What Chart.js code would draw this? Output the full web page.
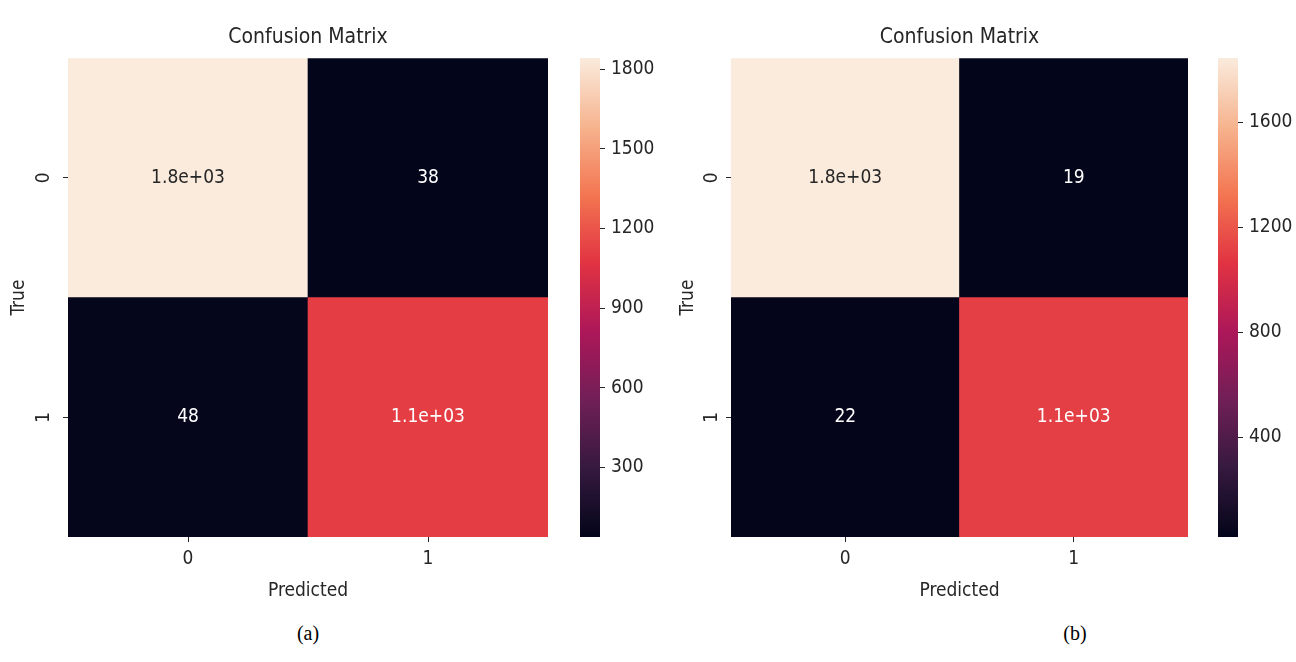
<!DOCTYPE html>
<html>
<head>
<meta charset="utf-8">
<script src="https://cdn.jsdelivr.net/npm/chart.js@4.4.1/dist/chart.umd.min.js"></script>
<style>
  body { margin: 0; background: #fff; width: 1296px; height: 662px; position: relative; overflow: hidden; }
  canvas { position: absolute; top: 0; }
  .cap { position: absolute; top: 622px; font: 20px 'Liberation Serif', 'Times New Roman', serif; color: #000; transform: translateX(-50%); }
</style>
</head>
<body>
<canvas id="hmA" width="548" height="610" style="left:0px"></canvas>
<canvas id="cbA" width="80" height="610" style="left:575px"></canvas>
<canvas id="hmB" width="518" height="610" style="left:670px"></canvas>
<canvas id="cbB" width="80" height="610" style="left:1213px"></canvas>
<div class="cap" style="left:308px">(a)</div>
<div class="cap" style="left:1075px">(b)</div>
<script>
const predLabels = ['0', '1'];
const trueLabels = ['0', '1'];
// rows = true class, columns = predicted class
const cmA = [[1842, 38], [48, 1110]];
const cmB = [[1845, 19], [22, 1110]];
const cbTicksA = [300, 600, 900, 1200, 1500, 1800];
const cbTicksB = [400, 800, 1200, 1600];

const FONT = "'DejaVu Sans Condensed', 'DejaVu Sans', sans-serif";
const INK = '#262626';
Chart.defaults.font.family = FONT;
Chart.defaults.font.size = 19;
Chart.defaults.color = INK;

// seaborn "rocket" colormap
const rocketStops = [
  [0, '#03051a'], [1 / 7, '#35193e'], [2 / 7, '#701f57'], [3 / 7, '#ad1759'],
  [4 / 7, '#e13342'], [5 / 7, '#f37651'], [6 / 7, '#f6b48f'], [1, '#faebdd']
];

function hexRgb(h) {
  return [1, 3, 5].map(i => parseInt(h.substr(i, 2), 16));
}

function rocket(t) {
  t = Math.max(0, Math.min(1, t));
  for (let i = 1; i < rocketStops.length; i++) {
    const [t1, c1] = rocketStops[i];
    if (t <= t1) {
      const [t0, c0] = rocketStops[i - 1];
      const f = (t - t0) / (t1 - t0);
      const a = hexRgb(c0), b = hexRgb(c1);
      const rgb = a.map((v, k) => Math.round(v + (b[k] - v) * f));
      return 'rgb(' + rgb.join(',') + ')';
    }
  }
  return rocketStops[rocketStops.length - 1][1];
}

function isLight(rgbStr) {
  const c = rgbStr.match(/\d+/g).map(v => {
    v = v / 255;
    return v <= 0.03928 ? v / 12.92 : Math.pow((v + 0.055) / 1.055, 2.4);
  });
  return 0.2126 * c[0] + 0.7152 * c[1] + 0.0722 * c[2] > 0.408;
}

// same as python '.2g'
function fmt(v) {
  return v.toPrecision(2).replace(/e([+-])(\d)$/, (m, s, d) => 'e' + s + '0' + d);
}

const annotate = {
  id: 'annotate',
  afterDatasetsDraw(chart) {
    const ctx = chart.ctx;
    ctx.save();
    ctx.font = '19px ' + FONT;
    ctx.textAlign = 'center';
    ctx.textBaseline = 'middle';
    chart.data.datasets.forEach((ds, di) => {
      chart.getDatasetMeta(di).data.forEach((bar, i) => {
        ctx.fillStyle = isLight(ds.backgroundColor[i]) ? INK : '#ffffff';
        ctx.fillText(fmt(ds.values[i]), bar.x, (bar.y + bar.base) / 2);
      });
    });
    ctx.restore();
  }
};

function heatmap(id, cm, yw, titlePad, tickPad) {
  const flat = cm.flat();
  const vmin = Math.min(...flat), vmax = Math.max(...flat);
  const n = trueLabels.length;
  // bottom row first so the stack reads top to bottom like the matrix
  const datasets = trueLabels.map((l, r) => r).reverse().map(r => ({
    data: predLabels.map(() => 1),
    values: cm[r],
    backgroundColor: cm[r].map(v => rocket((v - vmin) / (vmax - vmin))),
    borderWidth: 0,
    barPercentage: 1,
    categoryPercentage: 1
  }));

  new Chart(document.getElementById(id), {
    type: 'bar',
    data: { labels: predLabels, datasets: datasets },
    options: {
      responsive: false,
      animation: false,
      layout: { padding: 0 },
      plugins: {
        legend: { display: false },
        tooltip: { enabled: false },
        title: {
          display: true, text: 'Confusion Matrix', fullSize: false,
          font: { size: 21, weight: 'normal', lineHeight: 1.2 }, color: INK,
          padding: { top: 25, bottom: 8 }
        }
      },
      scales: {
        x: {
          stacked: true,
          grid: { drawOnChartArea: false, offset: false, tickLength: 5, color: INK },
          border: { display: false },
          ticks: { padding: 6 },
          title: { display: true, text: 'Predicted', font: { size: 19, lineHeight: 1.2 }, padding: { top: 0, bottom: 8 } },
          afterFit: s => { s.height = 73; }
        },
        y: {
          stacked: true,
          min: 0,
          max: n,
          afterBuildTicks: s => { s.ticks = trueLabels.map((l, r) => ({ value: n - r - 0.5 })); },
          grid: { drawOnChartArea: false, tickLength: 5, color: INK },
          border: { display: false },
          ticks: {
            minRotation: 90, maxRotation: 90, crossAlign: 'center', padding: tickPad,
            callback: v => trueLabels[n - 1 - Math.floor(v)]
          },
          title: { display: true, text: 'True', font: { size: 19, lineHeight: 1.2 }, padding: { top: titlePad, bottom: 0 } },
          afterFit: s => { s.width = yw; }
        }
      }
    },
    plugins: [annotate]
  });
}

function colorbar(id, cm, ticks) {
  const flat = cm.flat();
  const vmin = Math.min(...flat), vmax = Math.max(...flat);
  new Chart(document.getElementById(id), {
    type: 'bar',
    data: {
      labels: [''],
      datasets: [{
        data: [[vmin, vmax]],
        backgroundColor: c => {
          const a = c.chart.chartArea;
          if (!a) return '#000';
          const g = c.chart.ctx.createLinearGradient(0, a.bottom, 0, a.top);
          rocketStops.forEach(([t, col]) => g.addColorStop(t, col));
          return g;
        },
        borderWidth: 0,
        borderSkipped: false,
        barPercentage: 1,
        categoryPercentage: 1
      }]
    },
    options: {
      responsive: false,
      animation: false,
      layout: { padding: { left: 5, top: 58, bottom: 73, right: 0 } },
      plugins: { legend: { display: false }, tooltip: { enabled: false } },
      scales: {
        x: { display: false },
        y: {
          position: 'right',
          min: vmin,
          max: vmax,
          afterBuildTicks: s => { s.ticks = ticks.map(v => ({ value: v })); },
          grid: { drawOnChartArea: false, tickLength: 5, color: INK },
          border: { display: false },
          ticks: { padding: 6, callback: v => String(v) },
          afterFit: s => { s.width = 55; }
        }
      }
    }
  });
}

heatmap('hmA', cmA, 68, 8, 14);
colorbar('cbA', cmA, cbTicksA);
heatmap('hmB', cmB, 61, 7, 9);
colorbar('cbB', cmB, cbTicksB);
</script>
</body>
</html>
